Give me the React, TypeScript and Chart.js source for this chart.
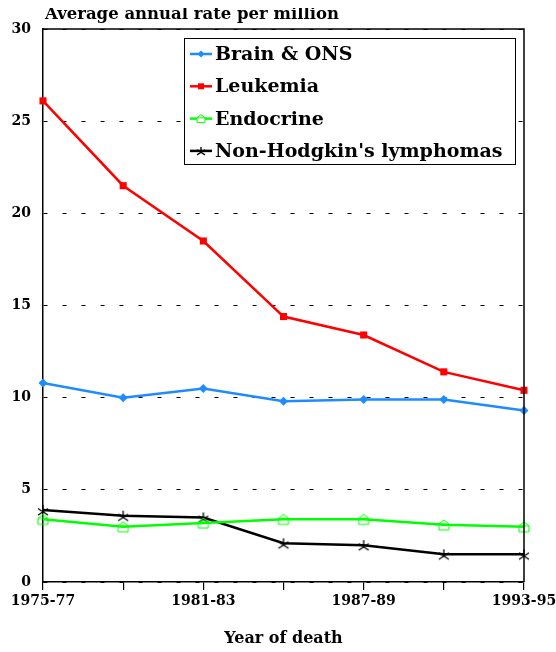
import React, { useEffect, useRef } from "react";
import { Chart, registerables } from "chart.js";

Chart.register(...registerables);

const periods = ["1975-77", "1978-80", "1981-83", "1984-86", "1987-89", "1990-92", "1993-95"];
const shownLabels = ["1975-77", "1981-83", "1987-89", "1993-95"];
const brainONS = [10.8, 10.0, 10.5, 9.8, 9.9, 9.9, 9.3];
const leukemia = [26.1, 21.5, 18.5, 14.4, 13.4, 11.4, 10.4];
const endocrine = [3.4, 3.0, 3.2, 3.4, 3.4, 3.1, 3.0];
const nonHodgkin = [3.9, 3.6, 3.5, 2.1, 2.0, 1.5, 1.5];
const seriesNames = ["Brain & ONS", "Leukemia", "Endocrine", "Non-Hodgkin's lymphomas"];
const yMin = 0;
const yMax = 30;
const yStep = 5;

const FONT = "'DejaVu Serif', serif";
const BLUE = "#1e8cff";
const RED = "#ff0000";
const GREEN = "#00ff00";
const BLACK = "#000000";

function drawHouse(ctx: CanvasRenderingContext2D, x: number, y: number, s: number, color: string) {
  ctx.save();
  ctx.strokeStyle = color;
  ctx.lineWidth = 1;
  ctx.beginPath();
  ctx.moveTo(x, y - s);
  ctx.lineTo(x + s, y - s * 0.2);
  ctx.lineTo(x + s, y + s);
  ctx.lineTo(x - s, y + s);
  ctx.lineTo(x - s, y - s * 0.2);
  ctx.closePath();
  ctx.moveTo(x - s, y - s * 0.2);
  ctx.lineTo(x + s, y - s * 0.2);
  ctx.stroke();
  ctx.restore();
}

function drawAsterisk(ctx: CanvasRenderingContext2D, x: number, y: number, s: number, color: string) {
  ctx.save();
  ctx.strokeStyle = color;
  ctx.lineWidth = 1.3;
  ctx.beginPath();
  ctx.moveTo(x, y - s);
  ctx.lineTo(x, y + s * 0.2);
  ctx.moveTo(x - s, y + s);
  ctx.lineTo(x + s, y - s * 0.3);
  ctx.moveTo(x + s, y + s);
  ctx.lineTo(x - s, y - s * 0.3);
  ctx.stroke();
  ctx.restore();
}

function makeMarker(kind: string, size: number, color: string) {
  const c = document.createElement("canvas");
  const d = size * 2 + 4;
  c.width = d;
  c.height = d;
  const ctx = c.getContext("2d")!;
  if (kind === "house") drawHouse(ctx, d / 2, d / 2, size, color);
  else drawAsterisk(ctx, d / 2, d / 2, size, color);
  return c;
}

const framePlugin = {
  id: "frameAndTitle",
  afterDraw(chart: any) {
    const { ctx, chartArea } = chart;
    ctx.save();
    ctx.strokeStyle = BLACK;
    ctx.lineWidth = 1.5;
    ctx.beginPath();
    ctx.moveTo(chartArea.left, chartArea.top);
    ctx.lineTo(chartArea.right, chartArea.top);
    ctx.lineTo(chartArea.right, chartArea.bottom);
    ctx.stroke();

    ctx.fillStyle = BLACK;
    ctx.font = `bold 16.5px ${FONT}`;
    ctx.textBaseline = "middle";
    ctx.textAlign = "left";
    ctx.fillText("Average annual rate per million", chartArea.left + 2, 7);

    // legend
    const bx = chartArea.right - 340;
    const by = chartArea.top + 9;
    const bw = 331;
    const bh = 126;
    ctx.fillStyle = "#ffffff";
    ctx.fillRect(bx, by, bw, bh);
    ctx.lineWidth = 1;
    ctx.strokeStyle = BLACK;
    ctx.strokeRect(bx + 0.5, by + 0.5, bw, bh);
    ctx.font = `bold 19px ${FONT}`;
    chart.data.datasets.forEach((ds: any, i: number) => {
      const cy = by + 16 + i * 32.3;
      const lx = bx + 6;
      ctx.strokeStyle = ds.borderColor;
      ctx.lineWidth = 2.5;
      ctx.beginPath();
      ctx.moveTo(lx, cy);
      ctx.lineTo(lx + 22, cy);
      ctx.stroke();
      const mx = lx + 11;
      if (i === 0) {
        ctx.fillStyle = ds.borderColor;
        ctx.beginPath();
        ctx.moveTo(mx, cy - 3.5);
        ctx.lineTo(mx + 3.5, cy);
        ctx.lineTo(mx, cy + 3.5);
        ctx.lineTo(mx - 3.5, cy);
        ctx.closePath();
        ctx.fill();
      } else if (i === 1) {
        ctx.fillStyle = ds.borderColor;
        ctx.fillRect(mx - 3, cy - 3, 6, 6);
      } else if (i === 2) {
        ctx.fillStyle = "#ffffff";
        ctx.fillRect(mx - 4, cy - 4, 8, 8);
        drawHouse(ctx, mx, cy, 4, ds.borderColor);
      } else {
        drawAsterisk(ctx, mx, cy, 4, ds.borderColor);
      }
      ctx.fillStyle = BLACK;
      ctx.fillText(ds.label, lx + 25, cy + 1);
    });
    ctx.restore();
  },
};

export default function App() {
  const ref = useRef<HTMLCanvasElement>(null);
  useEffect(() => {
    const houseMarker = makeMarker("house", 5, GREEN);
    const starMarker = makeMarker("star", 5, BLACK);
    const tickFont = { family: FONT, size: 14, weight: "bold" as const };
    const chart = new Chart(ref.current!, {
      type: "line",
      data: {
        labels: periods,
        datasets: [
          {
            label: seriesNames[0],
            data: brainONS,
            borderColor: BLUE,
            backgroundColor: BLUE,
            borderWidth: 2.5,
            pointStyle: "rectRot",
            pointRadius: 4.5,
            pointBorderWidth: 0,
          },
          {
            label: seriesNames[1],
            data: leukemia,
            borderColor: RED,
            backgroundColor: RED,
            borderWidth: 2.5,
            pointStyle: "rect",
            pointRadius: 5,
            pointBorderWidth: 0,
          },
          {
            label: seriesNames[2],
            data: endocrine,
            borderColor: GREEN,
            backgroundColor: GREEN,
            borderWidth: 2.5,
            pointStyle: houseMarker as any,
            pointRadius: 5,
          },
          {
            label: seriesNames[3],
            data: nonHodgkin,
            borderColor: BLACK,
            backgroundColor: BLACK,
            borderWidth: 2.5,
            pointStyle: starMarker as any,
            pointRadius: 5,
          },
        ],
      },
      options: {
        responsive: false,
        animation: false,
        layout: { padding: { top: 21, right: 32, left: 0, bottom: 4 } },
        plugins: {
          legend: { display: false },
          title: { display: false },
          tooltip: { enabled: false },
        },
        scales: {
          x: {
            type: "category",
            offset: false,
            afterFit: (scale: any) => {
              scale.paddingLeft = 0;
              scale.paddingRight = 0;
            },
            grid: { drawOnChartArea: false, drawTicks: true, tickLength: 8, color: BLACK, lineWidth: 1.2 },
            border: { color: BLACK, width: 1.5 },
            ticks: {
              autoSkip: false,
              maxRotation: 0,
              color: BLACK,
              font: tickFont,
              padding: 3,
              callback: (_v: any, i: number) => (shownLabels.includes(periods[i]) ? periods[i] : ""),
            },
            title: {
              display: true,
              text: "Year of death",
              color: BLACK,
              font: { family: FONT, size: 16, weight: "bold" },
              padding: { top: 16, bottom: 0 },
            },
          },
          y: {
            min: yMin,
            max: yMax,
            afterFit: (scale: any) => {
              scale.width = 35;
            },
            grid: { drawTicks: false, color: BLACK, lineWidth: 1 },
            border: { color: BLACK, width: 1.5, dash: [4, 15] },
            ticks: { stepSize: yStep, color: BLACK, font: tickFont, padding: 12 },
          },
        },
      },
      plugins: [framePlugin],
    });
    return () => chart.destroy();
  }, []);
  return (
    <div style={{ position: "absolute", left: 0, top: 0, width: 556, height: 652, overflow: "hidden" }}>
      <canvas
        ref={ref}
        width={548}
        height={644}
        style={{ position: "absolute", left: 8, top: 8, display: "block" }}
      />
    </div>
  );
}
